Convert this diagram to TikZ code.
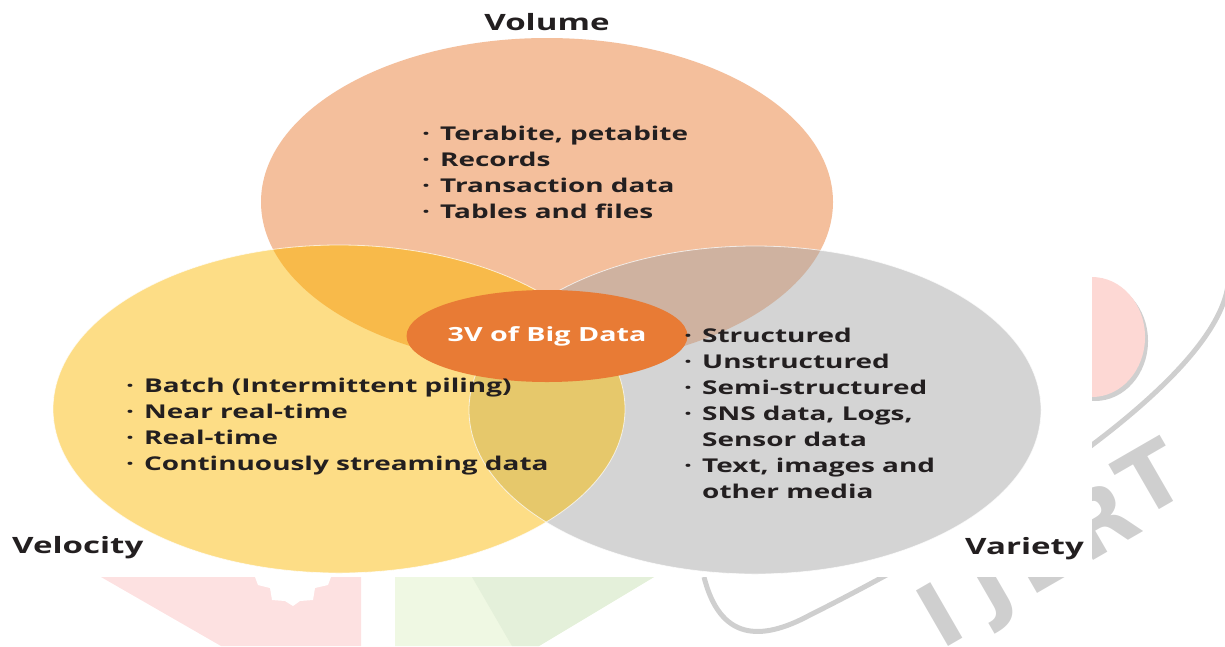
\documentclass[tikz,border=0pt]{standalone}
\usepackage{fontspec}
\setmainfont{Open Sans}[FakeStretch=1.47]
\newfontfamily\wmfont{DejaVu Sans}
\usetikzlibrary{shapes.geometric}
\definecolor{volc}{HTML}{F4BF9C}
\definecolor{velc}{HTML}{FDDD86}
\definecolor{varc}{HTML}{D4D4D4}
\definecolor{volvel}{HTML}{F8BA4A}
\definecolor{volvar}{HTML}{CFB2A0}
\definecolor{velvar}{HTML}{E6C86B}
\definecolor{triple}{HTML}{EAB24C}
\definecolor{corec}{HTML}{E87B35}
\definecolor{txtc}{HTML}{231F20}
\definecolor{wmpink}{HTML}{FDE1E1}
\definecolor{wmpinkb}{HTML}{FDD8D4}
\definecolor{wmgreenl}{HTML}{EFF8E3}
\definecolor{wmgreend}{HTML}{E4F0DA}
\definecolor{wmgray}{HTML}{CFCFCF}
\newcommand\bul{\makebox[0pt][r]{·\hspace{10pt}}}
\begin{document}
\begin{tikzpicture}[x=1pt,y=-1pt,
  venn/.style={ellipse, inner sep=0pt, minimum width=572pt, minimum height=328pt},
  item/.style={anchor=base west, inner sep=0pt, text=txtc, font=\bfseries\fontsize{19}{23}\selectfont},
  lbl/.style={inner sep=0pt, text=txtc, font=\bfseries\fontsize{22.5}{24}\selectfont},
  wmletter/.style={text=wmgray, font=\wmfont\bfseries\fontsize{88}{88}\selectfont, rotate=30, inner sep=0pt}]
\useasboundingbox (0,0) rectangle (1225,646);
% ---- faint watermark ----
\fill[wmpink] (101,577) -- (361,577) -- (361,646) -- (221,646) -- cycle;
\fill[white] (255,577) -- (258,585) -- (270,588) -- (272,600) -- (285,601) -- (293,606) -- (300,601) -- (313,600) -- (315,588) -- (328,585) -- (331,577) -- cycle;
\fill[wmgreenl] (395,577) -- (654,577) -- (539,646) -- (395,646) -- cycle;
\fill[wmgreend] (472,577) -- (654,577) -- (539,646) -- (512,646) -- cycle;
\fill[wmgray] (1095,341) ellipse [x radius=53pt, y radius=60pt];
\fill[wmpinkb] (1092,337) ellipse [x radius=53pt, y radius=60pt];
\draw[wmgray, line width=5pt] (1228,285) .. controls (1215,380) and (1000,520) .. (810,615) .. controls (760,642) and (720,640) .. (704,577);
\node[wmletter] (wmI) at (940,615) {I};
\node[wmletter] (wmJ) at (993,588) {J};
\node[wmletter] (wmE) at (1040,555) {E};
\node[wmletter] (wmR) at (1100,520) {R};
\node[wmletter] (wmT) at (1150,478) {T};
\fill[white] (0,0) rectangle (1092,577);
% ---- Venn circles ----
\node[venn, fill=volc] (vol) at (547,202) {};
\node[venn, fill=velc] (vel) at (339,409) {};
\node[venn, fill=varc] (var) at (755,410) {};
\begin{scope}
  \clip (vol.center) ellipse [x radius=286pt, y radius=164pt];
  \fill[volvel] (vel.center) ellipse [x radius=286pt, y radius=164pt];
  \fill[volvar] (var.center) ellipse [x radius=286pt, y radius=164pt];
\end{scope}
\begin{scope}
  \clip (vel.center) ellipse [x radius=286pt, y radius=164pt];
  \clip (var.center) ellipse [x radius=286pt, y radius=164pt];
  \fill[velvar] (var.center) ellipse [x radius=286pt, y radius=164pt];
\end{scope}
\begin{scope}
  \clip (vol.center) ellipse [x radius=286pt, y radius=164pt];
  \clip (vel.center) ellipse [x radius=286pt, y radius=164pt];
  \fill[triple] (var.center) ellipse [x radius=286pt, y radius=164pt];
\end{scope}
\draw[white, opacity=0.7, line width=0.8pt] (vel.center) ellipse [x radius=286pt, y radius=164pt];
\draw[white, opacity=0.7, line width=0.8pt] (var.center) ellipse [x radius=286pt, y radius=164pt];
% ---- core ----
\node[ellipse, fill=corec, inner sep=0pt, minimum width=250pt, minimum height=92pt, text=white,
      font=\bfseries\fontsize{19.5}{23}\selectfont] (core) at (547,336) {3V of Big Data};
% ---- labels ----
\node[lbl, anchor=base] (lvol) at (547,30) {Volume};
\node[lbl, anchor=base west] (lvel) at (12,553) {Velocity};
\node[lbl, anchor=base west] (lvar) at (965,554) {Variety};
% ---- Volume items ----
\node[item] (v1) at (440,140) {\bul Terabite, petabite};
\node[item] (v2) at (440,166) {\bul Records};
\node[item] (v3) at (440,192) {\bul Transaction data};
\node[item] (v4) at (440,218) {\bul Tables and files};
% ---- Velocity items ----
\node[item] (s1) at (144,392) {\bul Batch (Intermittent piling)};
\node[item] (s2) at (144,418) {\bul Near real-time};
\node[item] (s3) at (144,444) {\bul Real-time};
\node[item] (s4) at (144,470) {\bul Continuously streaming data};
% ---- Variety items ----
\node[item] (r1) at (702,342) {\bul Structured};
\node[item] (r2) at (702,368) {\bul Unstructured};
\node[item] (r3) at (702,394) {\bul Semi-structured};
\node[item] (r4) at (702,420) {\bul SNS data, Logs,};
\node[item] (r5) at (702,446) {Sensor data};
\node[item] (r6) at (702,472) {\bul Text, images and};
\node[item] (r7) at (702,498) {other media};
\end{tikzpicture}
\end{document}
